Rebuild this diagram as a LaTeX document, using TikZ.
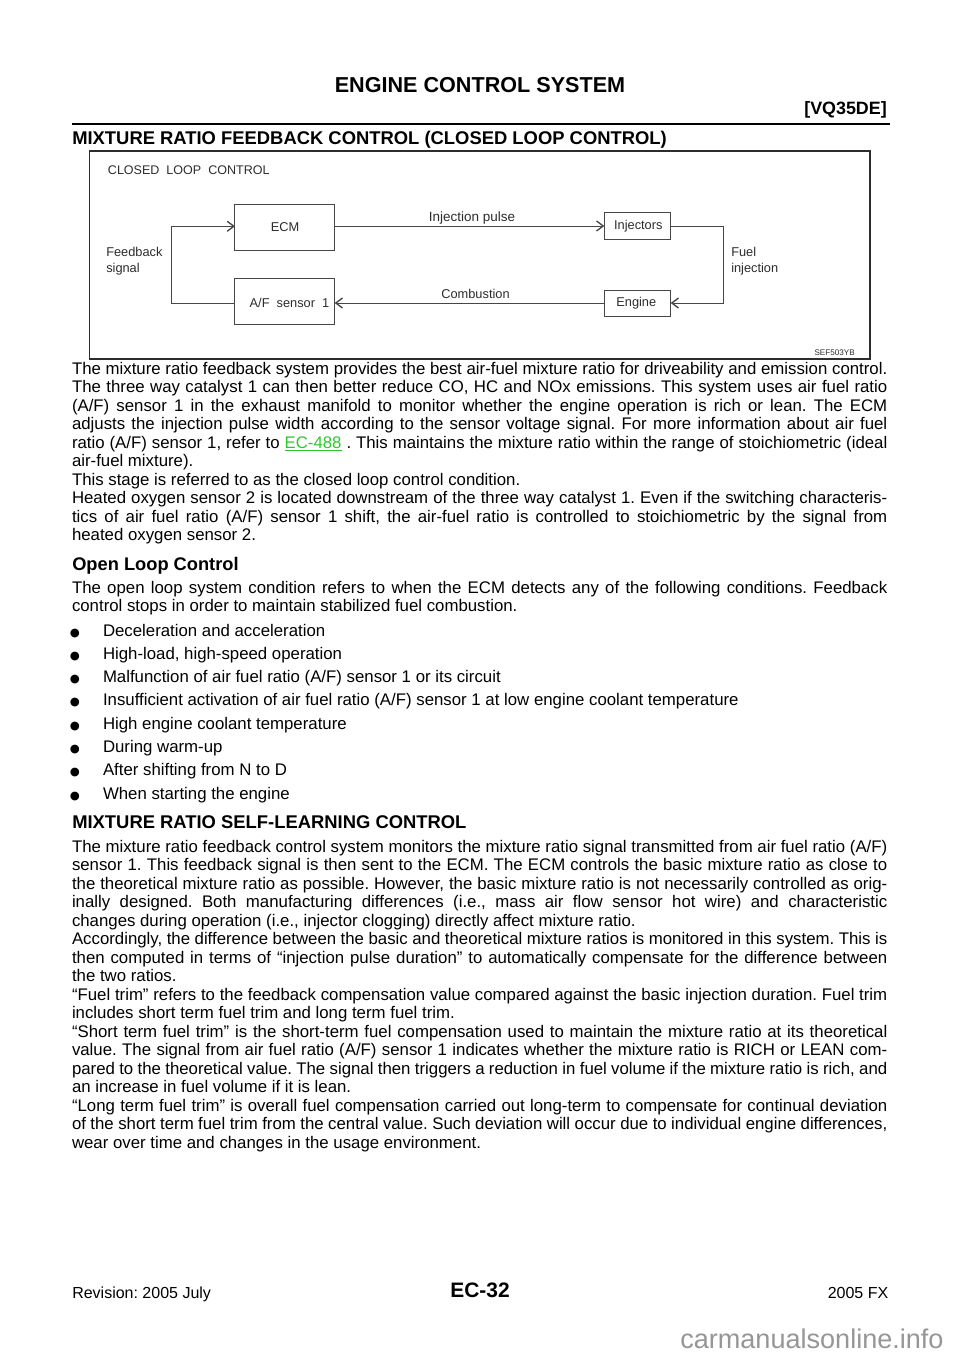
\documentclass[tikz,border=0pt]{standalone}
\usepackage{fontspec}
\setmainfont{Liberation Sans}
\newfontfamily\symfont{DejaVu Sans}
\usetikzlibrary{arrows.meta}
\definecolor{linkgreen}{RGB}{45,200,45}
\definecolor{wm}{RGB}{150,150,150}
\definecolor{dg}{RGB}{45,45,45}
\definecolor{ln}{RGB}{70,70,70}
\newcommand{\bodyfont}{\fontsize{12.6}{14}\selectfont\frenchspacing}
\newcommand{\dfont}{\fontsize{9.6}{11}\selectfont}
\newcommand{\jtext}[1]{\hbox to 611.5pt{\spaceskip=0.278em plus 1em minus 0.12em\relax #1}}
\tikzset{
 txt/.style={inner sep=0pt,outer sep=0pt,anchor=base west,font=\bodyfont},
 just/.style={txt},
 hd/.style={inner sep=0pt,anchor=base west,font=\fontsize{13.8}{15}\selectfont\bfseries},
 dia/.style={inner sep=0pt,anchor=base west,font=\dfont,text=dg},
 dlab/.style={inner sep=0pt,anchor=base,font=\dfont,text=dg},
 blk/.style={draw=ln,line width=0.75pt,inner sep=0pt,outer sep=0pt},
 con/.style={draw=ln,line width=0.7pt},
 arr/.style={con,-{Straight Barb[length=5pt,width=7.5pt,line width=1pt]}},
 bul/.style={inner sep=0pt,anchor=base west,font=\symfont\fontsize{8.6}{10}\selectfont}
}
\begin{document}
\begin{tikzpicture}[x=0.75pt,y=-0.75pt]
\useasboundingbox (0,0) rectangle (960,1358);
\fill[white] (0,0) rectangle (960,1358);
\node[inner sep=0pt,anchor=base,font=\fontsize{16.2}{18}\selectfont\bfseries] (title) at (480,93) {ENGINE CONTROL SYSTEM};
\node[inner sep=0pt,anchor=base east,font=\fontsize{13.4}{15}\selectfont\bfseries] (eng) at (887,115) {[VQ35DE]};
\draw[line width=1.9pt] (72,124) -- (890,124);
\node[hd] (h1) at (72,145) {MIXTURE RATIO FEEDBACK CONTROL (CLOSED LOOP CONTROL)};
% figure
\draw[line width=1.1pt,draw=dg] (89.5,151) rectangle (870,359);
\node[dia,font=\fontsize{9.4}{11}\selectfont] (clc) at (107.7,174.3) {CLOSED\ \ LOOP\ \ CONTROL};
\node[blk,minimum width=74.8pt,minimum height=34.5pt] (ecm) at (284.85,227.3) {};
\node[blk,minimum width=74.8pt,minimum height=34.8pt] (afs) at (284.85,301.5) {};
\node[blk,minimum width=49.8pt,minimum height=20.25pt] (inj) at (637.5,225.8) {};
\node[blk,minimum width=49.8pt,minimum height=19.8pt] (eng2) at (637.5,303.5) {};
\node[dlab] (ecmt) at (285,231.7) {ECM};
\node[dlab] (afst) at (289.5,307.3) {A/F\ \ sensor\ \ 1};
\node[dlab] (injt) at (638.3,230) {Injectors};
\node[dlab] (engt) at (636.3,306.7) {Engine};
\node[dia] (fb1) at (106,256.7) {Feedback};
\node[dia] (fb2) at (106,272.7) {signal};
\node[dia] (fi1) at (731,256.7) {Fuel};
\node[dia] (fi2) at (731,272.7) {injection};
\node[dlab,font=\fontsize{10.1}{11}\selectfont] (ip) at (472,221.7) {Injection pulse};
\node[dlab] (cb) at (475.5,299) {Combustion};
\node[inner sep=0pt,anchor=base east,font=\fontsize{6.1}{7}\selectfont,text=dg] (sef) at (855,356) {SEF503YB};
\coordinate (c1) at (171.7,226.3);
\coordinate (c2) at (171.7,303);
\coordinate (c3) at (723.3,226);
\coordinate (c4) at (723.3,303);
\draw[arr] (ecm.east |- c3) -- (inj.west |- c3);
\draw[arr] (eng2.west |- c4) -- (afs.east |- c4);
\draw[arr] (afs.west |- c2) -- (c2) -- (c1) -- (ecm.west |- c1);
\draw[arr] (inj.east |- c3) -- (c3) -- (c4) -- (eng2.east |- c4);
% body
\node[just] (p1) at (72,374) {\jtext{The mixture ratio feedback system provides the best air-fuel mixture ratio for driveability and emission control.}};
\node[just] (p2) at (72,392.5) {\jtext{The three way catalyst 1 can then better reduce CO, HC and NOx emissions. This system uses air fuel ratio}};
\node[just] (p3) at (72,411) {\jtext{(A/F) sensor 1 in the exhaust manifold to monitor whether the engine operation is rich or lean. The ECM}};
\node[just] (p4) at (72,429.5) {\jtext{adjusts the injection pulse width according to the sensor voltage signal. For more information about air fuel}};
\node[just] (p5) at (72,448) {\jtext{ratio (A/F) sensor 1, refer to \textcolor{linkgreen}{\underline{EC-488}} . This maintains the mixture ratio within the range of stoichiometric (ideal}};
\node[txt] (p6) at (72,466.5) {air-fuel mixture).};
\node[txt] (p7) at (72,485) {This stage is referred to as the closed loop control condition.};
\node[just] (p8) at (72,503.5) {\jtext{Heated oxygen sensor 2 is located downstream of the three way catalyst 1. Even if the switching characteris-}};
\node[just] (p9) at (72,522) {\jtext{tics of air fuel ratio (A/F) sensor 1 shift, the air-fuel ratio is controlled to stoichiometric by the signal from}};
\node[txt] (p10) at (72,540.5) {heated oxygen sensor 2.};
\node[inner sep=0pt,anchor=base west,font=\fontsize{13.7}{15}\selectfont\bfseries] (h2) at (72,570) {Open Loop Control};
\node[just] (q1) at (72,593.3) {\jtext{The open loop system condition refers to when the ECM detects any of the following conditions. Feedback}};
\node[txt] (q2) at (72,611.8) {control stops in order to maintain stabilized fuel combustion.};
\foreach \n/\y/\t in {1/636/{Deceleration and acceleration},2/659.3/{High-load, high-speed operation},3/682.6/{Malfunction of air fuel ratio (A/F) sensor 1 or its circuit},4/705.9/{Insufficient activation of air fuel ratio (A/F) sensor 1 at low engine coolant temperature},5/729.2/{High engine coolant temperature},6/752.5/{During warm-up},7/775.8/{After shifting from N to D},8/799.1/{When starting the engine}}{
 \node[bul] (b\n) at (69.5,\y) {●};
 \node[txt] (bt\n) at (103,\y) {\t};
}
\node[hd] (h3) at (72,828.3) {MIXTURE RATIO SELF-LEARNING CONTROL};
\node[just] (r1) at (72,852.3) {\jtext{The mixture ratio feedback control system monitors the mixture ratio signal transmitted from air fuel ratio (A/F)}};
\node[just] (r2) at (72,870.8) {\jtext{sensor 1. This feedback signal is then sent to the ECM. The ECM controls the basic mixture ratio as close to}};
\node[just] (r3) at (72,889.3) {\jtext{the theoretical mixture ratio as possible. However, the basic mixture ratio is not necessarily controlled as orig-}};
\node[just] (r4) at (72,907.8) {\jtext{inally designed. Both manufacturing differences (i.e., mass air flow sensor hot wire) and characteristic}};
\node[txt] (r5) at (72,926.3) {changes during operation (i.e., injector clogging) directly affect mixture ratio.};
\node[just] (r6) at (72,944.8) {\jtext{Accordingly, the difference between the basic and theoretical mixture ratios is monitored in this system. This is}};
\node[just] (r7) at (72,963.3) {\jtext{then computed in terms of “injection pulse duration” to automatically compensate for the difference between}};
\node[txt] (r8) at (72,981.8) {the two ratios.};
\node[just] (r9) at (72,1000.3) {\jtext{“Fuel trim” refers to the feedback compensation value compared against the basic injection duration. Fuel trim}};
\node[txt] (r10) at (72,1018.8) {includes short term fuel trim and long term fuel trim.};
\node[just] (r11) at (72,1037.3) {\jtext{“Short term fuel trim” is the short-term fuel compensation used to maintain the mixture ratio at its theoretical}};
\node[just] (r12) at (72,1055.8) {\jtext{value. The signal from air fuel ratio (A/F) sensor 1 indicates whether the mixture ratio is RICH or LEAN com-}};
\node[just] (r13) at (72,1074.3) {\jtext{pared to the theoretical value. The signal then triggers a reduction in fuel volume if the mixture ratio is rich, and}};
\node[txt] (r14) at (72,1092.8) {an increase in fuel volume if it is lean.};
\node[just] (r15) at (72,1111.3) {\jtext{“Long term fuel trim” is overall fuel compensation carried out long-term to compensate for continual deviation}};
\node[just] (r16) at (72,1129.8) {\jtext{of the short term fuel trim from the central value. Such deviation will occur due to individual engine differences,}};
\node[txt] (r17) at (72,1148.3) {wear over time and changes in the usage environment.};
% footer
\node[inner sep=0pt,anchor=base west,font=\fontsize{12}{13}\selectfont\frenchspacing] (rev) at (72,1298) {Revision: 2005 July};
\node[inner sep=0pt,anchor=base,font=\fontsize{15.7}{18}\selectfont\bfseries] (pg) at (480,1297) {EC-32};
\node[inner sep=0pt,anchor=base east,font=\fontsize{12}{13}\selectfont] (fx) at (888.5,1298) {2005 FX};
\node[inner sep=0pt,anchor=base west,font=\fontsize{20.3}{22}\selectfont,text=wm] (wmk) at (680,1348) {carmanualsonline.info};
\end{tikzpicture}
\end{document}
